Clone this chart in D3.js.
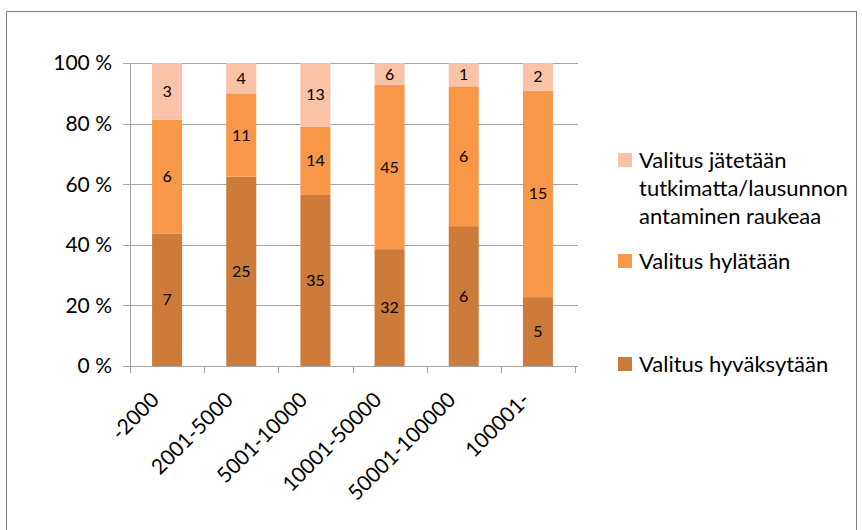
<!DOCTYPE html>
<html><head><meta charset="utf-8">
<script src="https://cdn.jsdelivr.net/npm/d3@7"></script>
<style>body{margin:0;background:#fff}svg{display:block}text{font-family:Lato,"Open Sans",sans-serif;fill:#000}</style>
</head><body><svg id="c" width="862" height="530"></svg>
<script>
const categories = ["-2000","2001-5000","5001-10000","10001-50000","50001-100000","100001-"];
const hyvaksytaan = [7,25,35,32,6,5];
const hylataan = [6,11,14,45,6,15];
const jatetaan = [3,4,13,6,1,2];
const seriesNames = ["Valitus hyväksytään","Valitus hylätään","Valitus jätetään tutkimatta/lausunnon antaminen raukeaa"];
const colors = ["#CC7B3B","#F79747","#FAC3A8"];
const yTicks = [0,20,40,60,80,100];

const svg = d3.select("#c");
svg.append("rect").attr("x",6.5).attr("y",11.5).attr("width",850).attr("height",530).attr("fill","none").attr("stroke","#7f7f7f").attr("stroke-width",1);

const x = d3.scaleBand().domain(categories).range([130,575]).paddingInner(0.595).paddingOuter(0.2975);
const xb = d3.scaleBand().domain(categories).range([130,575]);
const y = d3.scaleLinear().domain([0,100]).range([366,63]);

const g = svg.append("g");
g.selectAll("line.grid").data(yTicks).join("line")
  .attr("x1",123).attr("x2",578).attr("y1",d=>Math.round(y(d))+0.5).attr("y2",d=>Math.round(y(d))+0.5)
  .attr("stroke","#a6a6a6").attr("stroke-width",1);
g.append("line").attr("x1",130.5).attr("x2",130.5).attr("y1",y(100)).attr("y2",y(0)+7).attr("stroke","#a6a6a6");
g.selectAll("line.xt").data(categories.concat(["end"])).join("line")
  .attr("x1",(d,i)=>Math.round(130+i*xb.step())+0.5).attr("x2",(d,i)=>Math.round(130+i*xb.step())+0.5)
  .attr("y1",y(0)).attr("y2",y(0)+7).attr("stroke","#a6a6a6");
g.selectAll("text.yl").data(yTicks).join("text")
  .attr("x",112).attr("y",d=>y(d)).attr("dy","0.35em").attr("text-anchor","end")
  .attr("font-size",21).text(d=>d+" %");

const data = categories.map((c,i)=>({cat:c, v:[hyvaksytaan[i],hylataan[i],jatetaan[i]]}));
data.forEach(d=>{
  const tot = d3.sum(d.v); let acc=0;
  d.v.forEach((v,k)=>{
    const y0 = acc/tot*100, y1=(acc+v)/tot*100; acc+=v;
    g.append("rect").attr("x",x(d.cat)).attr("width",x.bandwidth())
      .attr("y",y(y1)).attr("height",y(y0)-y(y1)).attr("fill",colors[k]);
    g.append("text").attr("x",x(d.cat)+x.bandwidth()/2).attr("y",(y(y0)+y(y1))/2)
      .attr("dy","0.35em").attr("text-anchor","middle").attr("font-size",16).text(v);
  });
});
g.selectAll("text.xl").data(categories).join("text")
  .attr("text-anchor","end").attr("font-size",21)
  .attr("transform",d=>`translate(${xb(d)+xb.bandwidth()/2-12},${y(0)+30}) rotate(-45)`)
  .attr("dy","0.35em").text(d=>d);

const leg = [
  {k:2, y:160, lines:["Valitus jätetään","tutkimatta/lausunnon","antaminen raukeaa"]},
  {k:1, y:261, lines:["Valitus hylätään"]},
  {k:0, y:364, lines:["Valitus hyväksytään"]}
];
leg.forEach(l=>{
  svg.append("rect").attr("x",618).attr("y",l.y-7).attr("width",14).attr("height",14).attr("fill",colors[l.k]);
  const t = svg.append("text").attr("x",639).attr("y",l.y).attr("font-size",22);
  l.lines.forEach((s,i)=>t.append("tspan").attr("x",639).attr("y",l.y+i*28).attr("dy","0.35em").text(s));
});
</script></body></html>
